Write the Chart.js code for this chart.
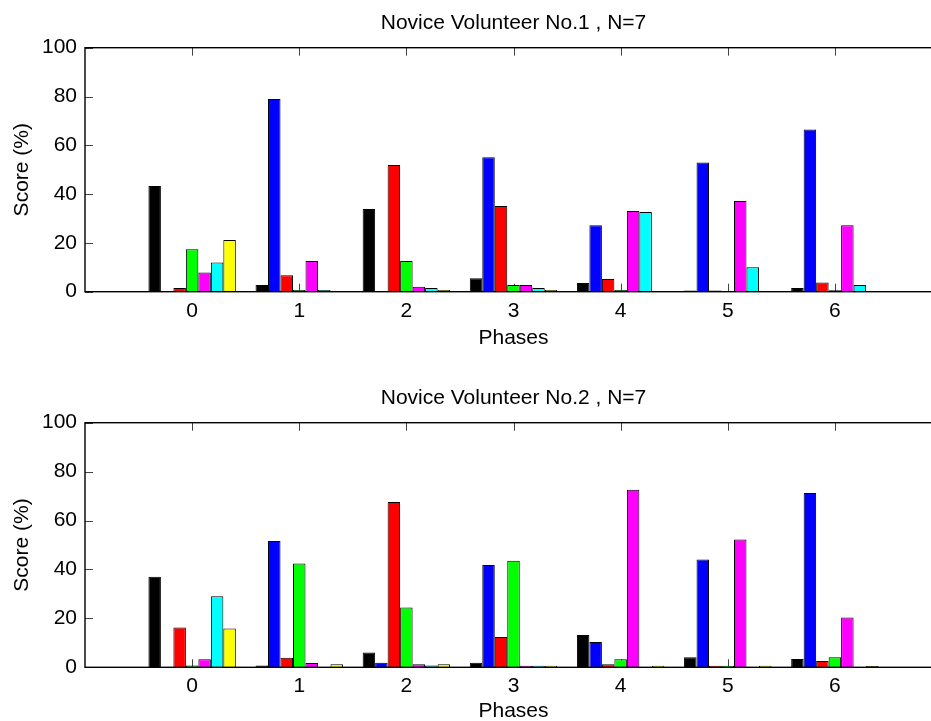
<!DOCTYPE html>
<html>
<head>
<meta charset="utf-8">
<title>Novice Volunteer scores by phase</title>
<script src="https://cdn.jsdelivr.net/npm/chart.js@4.4.1/dist/chart.umd.min.js"></script>
<style>
  html, body { margin: 0; padding: 0; background: #fff; overflow: hidden; }
  body { width: 931px; height: 721px; position: relative; }
  canvas { position: absolute; left: 0; }
</style>
</head>
<body>
<canvas id="vol1" width="942" height="380" style="top:0px"></canvas>
<canvas id="vol2" width="942" height="380" style="top:375px"></canvas>
<script>
const phases = [0, 1, 2, 3, 4, 5, 6];
const yTicks = [0, 20, 40, 60, 80, 100];
const barColors = ['#000000', '#0000ff', '#ff0000', '#00ff00', '#ff00ff', '#00ffff', '#ffff00'];

// Novice Volunteer No.1 (one value per phase)
const v1Black   = [43.3, 2.7, 33.9, 5.5, 3.6, 0.5, 1.5];
const v1Blue    = [0, 79.0, 0, 55.1, 27.2, 53.0, 66.5];
const v1Red     = [1.5, 6.7, 51.9, 35.1, 5.2, 0.5, 3.8];
const v1Green   = [17.4, 0.7, 12.6, 2.7, 0.7, 0, 0.6];
const v1Magenta = [7.9, 12.6, 2.0, 2.7, 33.1, 37.2, 27.2];
const v1Cyan    = [12.0, 0.7, 1.5, 1.5, 32.7, 10.0, 2.7];
const v1Yellow  = [21.2, 0, 0.7, 0.7, 0, 0, 0];

// Novice Volunteer No.2
const v2Black   = [37.0, 0.7, 6.0, 1.9, 13.2, 4.1, 3.4];
const v2Blue    = [0, 51.6, 1.9, 41.8, 10.3, 44.1, 71.3];
const v2Red     = [16.3, 3.9, 67.6, 12.4, 1.2, 0.6, 2.6];
const v2Green   = [0.7, 42.4, 24.4, 43.6, 3.3, 0.6, 4.1];
const v2Magenta = [3.3, 1.8, 1.2, 0.6, 72.6, 52.2, 20.4];
const v2Cyan    = [29.0, 0, 0.7, 0.6, 0, 0, 0];
const v2Yellow  = [15.9, 1.2, 1.2, 0.6, 0.6, 0.6, 0.5];

const FONT = { family: '"Liberation Sans", Arial, sans-serif', size: 21, weight: 'normal', lineHeight: 1.2 };

// matlab style box with ticks pointing inward
const boxTicks = {
  id: 'boxTicks',
  beforeDatasetsDraw(chart) {
    const { ctx, chartArea: a } = chart;
    const xs = chart.scales.x, ys = chart.scales.y;
    ctx.save();
    ctx.strokeStyle = '#444';
    ctx.lineWidth = 1;
    ctx.beginPath();
    xs.ticks.forEach(t => {
      const px = Math.round(xs.getPixelForValue(t.value)) + 0.5;
      ctx.moveTo(px, a.bottom); ctx.lineTo(px, a.bottom - 8);
      ctx.moveTo(px, a.top); ctx.lineTo(px, a.top + 8);
    });
    ys.ticks.forEach(t => {
      const py = Math.round(ys.getPixelForValue(t.value)) + 0.5;
      ctx.moveTo(a.left, py); ctx.lineTo(a.left + 8, py);
    });
    ctx.stroke();
    ctx.restore();
  },
  afterDatasetsDraw(chart) {
    const { ctx, chartArea: a } = chart;
    ctx.save();
    ctx.strokeStyle = '#000';
    ctx.lineWidth = 1.4;
    ctx.strokeRect(a.left, a.top, a.right - a.left, a.bottom - a.top);
    ctx.restore();
  }
};

function makeChart(id, title, series, plotBottom, phasesPad) {
  const canvas = document.getElementById(id);
  const datasets = series.map((vals, i) => ({
    data: phases.map((p, j) => ({ x: p, y: vals[j] })),
    backgroundColor: barColors[i],
    borderColor: '#000',
    borderWidth: 1,
    categoryPercentage: 0.816,
    barPercentage: 1
  }));

  return new Chart(canvas.getContext('2d'), {
    type: 'bar',
    data: { datasets },
    plugins: [boxTicks],
    options: {
      responsive: false,
      animation: false,
      layout: { padding: 0 },
      plugins: {
        legend: { display: false },
        tooltip: { enabled: false },
        title: {
          display: true,
          text: title,
          color: '#000',
          fullSize: false,
          font: FONT,
          padding: { top: 10.2, bottom: 12.3 }
        }
      },
      scales: {
        x: {
          type: 'linear',
          min: -1,
          max: 7,
          offset: false,
          grid: { display: false, drawTicks: false },
          border: { display: false },
          afterBuildTicks: s => { s.ticks = phases.map(v => ({ value: v })); },
          afterFit: s => { s.height = canvas.height - plotBottom; },
          ticks: { color: '#000', font: FONT, padding: 6.7, maxRotation: 0 },
          title: { display: true, text: 'Phases', color: '#000', font: FONT, padding: { top: 0, bottom: phasesPad } }
        },
        y: {
          min: 0,
          max: 100,
          grid: { display: false, drawTicks: false },
          border: { display: false },
          afterBuildTicks: s => { s.ticks = yTicks.map(v => ({ value: v })); },
          afterFit: s => { s.width = 85; },
          ticks: { color: '#000', font: FONT, padding: 8 },
          title: { display: true, text: 'Score (%)', color: '#000', font: FONT, padding: { top: 9.9, bottom: 0 } }
        }
      }
    }
  });
}

makeChart('vol1', 'Novice Volunteer No.1 , N=7',
  [v1Black, v1Blue, v1Red, v1Green, v1Magenta, v1Cyan, v1Yellow], 291.7, 29.4);
makeChart('vol2', 'Novice Volunteer No.2 , N=7',
  [v2Black, v2Blue, v2Red, v2Green, v2Magenta, v2Cyan, v2Yellow], 292.3, 31.4);
</script>
</body>
</html>
